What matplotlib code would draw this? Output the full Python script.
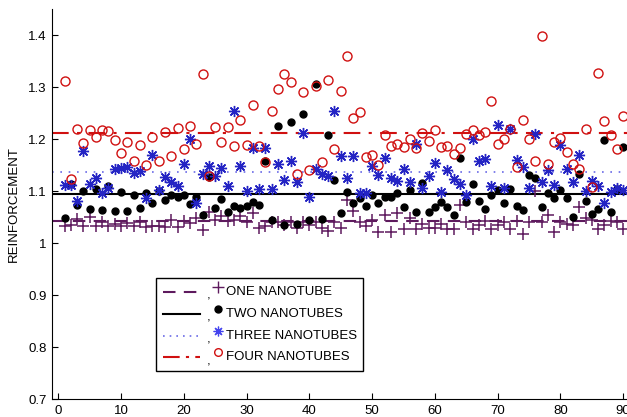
import numpy as np
import matplotlib
matplotlib.use('Agg')
import matplotlib.pyplot as plt
from matplotlib.lines import Line2D
from matplotlib.patches import Rectangle
from matplotlib.ticker import FuncFormatter

plt.rcParams['font.family'] = ['Liberation Sans', 'DejaVu Sans']

# sample index 1..90
sample = np.arange(1, 91)

one_tube = [
    1.032, 1.035, 1.0455, 1.033, 1.050, 1.0325, 1.0395, 1.033, 1.037, 1.033,
    1.0385, 1.033, 1.0395, 1.030, 1.033, 1.033, 1.031, 1.044, 1.030, 1.0425,
    1.0385, 1.048, 1.0245, 1.059, 1.045, 1.051, 1.042, 1.0436, 1.051, 1.041,
    1.058, 1.028, 1.033, 1.041, 1.041, 1.0346, 1.041, 1.028, 1.041, 1.0346,
    1.041, 1.028, 1.0237, 1.041, 1.029, 1.083, 1.062, 1.040, 1.032, 1.044,
    1.022, 1.0545, 1.022, 1.057, 1.027, 1.049, 1.027, 1.0365, 1.029, 1.029,
    1.0365, 1.027, 1.027, 1.073, 1.041, 1.027, 1.035, 1.043, 1.027, 1.035,
    1.041, 1.027, 1.043, 1.017, 1.041, 1.100, 1.041, 1.0545, 1.022, 1.041,
    1.0365, 1.034, 1.070, 1.049, 1.044, 1.027, 1.034, 1.043, 1.041, 1.027]

two_tubes = [
    1.048, 1.1135, 1.074, 1.0995, 1.065, 1.104, 1.063, 1.110, 1.062, 1.099,
    1.062, 1.092, 1.0665, 1.096, 1.076, 1.0995, 1.082, 1.093, 1.089, 1.092,
    1.075, 1.089, 1.053, 1.127, 1.068, 1.084, 1.060, 1.072, 1.068, 1.071,
    1.0795, 1.0735, 1.158, 1.045, 1.2245, 1.035, 1.232, 1.0375, 1.249, 1.0435,
    1.305, 1.0455, 1.207, 1.122, 1.057, 1.098, 1.077, 1.086, 1.071, 1.093,
    1.076, 1.088, 1.089, 1.097, 1.070, 1.1026, 1.0596, 1.115, 1.059, 1.070,
    1.078, 1.070, 1.053, 1.163, 1.078, 1.1135, 1.081, 1.065, 1.0917, 1.102,
    1.0765, 1.103, 1.071, 1.0635, 1.1315, 1.125, 1.070, 1.097, 1.0875, 1.101,
    1.0875, 1.0495, 1.1335, 1.080, 1.055, 1.066, 1.1975, 1.060, 1.103, 1.184]

three_tubes = [
    1.1125, 1.1125, 1.081, 1.1775, 1.1135, 1.1255, 1.097, 1.1055, 1.1425, 1.144,
    1.147, 1.134, 1.138, 1.087, 1.169, 1.1027, 1.127, 1.117, 1.110, 1.152,
    1.2007, 1.0777, 1.1327, 1.1475, 1.129, 1.144, 1.109, 1.253, 1.148, 1.100,
    1.1825, 1.103, 1.1825, 1.103, 1.1516, 1.122, 1.158, 1.1165, 1.211, 1.088,
    1.1417, 1.1335, 1.129, 1.253, 1.1665, 1.1245, 1.1665, 1.097, 1.097, 1.148,
    1.1315, 1.163, 1.1245, 1.1195, 1.142, 1.118, 1.1895, 1.106, 1.129, 1.154,
    1.0987, 1.1397, 1.123, 1.1135, 1.0917, 1.200, 1.157, 1.1615, 1.1096, 1.227,
    1.106, 1.2186, 1.1603, 1.1462, 1.106, 1.209, 1.117, 1.1405, 1.112, 1.188,
    1.143, 1.117, 1.170, 1.100, 1.1186, 1.109, 1.076, 1.098, 1.105, 1.1015]

four_tubes = [
    1.3115, 1.1225, 1.2185, 1.193, 1.217, 1.2035, 1.218, 1.215, 1.1975, 1.1735,
    1.194, 1.1585, 1.1885, 1.150, 1.203, 1.158, 1.214, 1.167, 1.222, 1.181,
    1.225, 1.190, 1.325, 1.128, 1.223, 1.194, 1.2224, 1.186, 1.2365, 1.188,
    1.265, 1.1865, 1.156, 1.254, 1.2955, 1.3256, 1.310, 1.1327, 1.290, 1.141,
    1.301, 1.156, 1.313, 1.181, 1.292, 1.360, 1.2405, 1.2523, 1.1655, 1.170,
    1.1495, 1.208, 1.187, 1.1895, 1.184, 1.1997, 1.1835, 1.2115, 1.197, 1.218,
    1.184, 1.187, 1.1705, 1.183, 1.210, 1.2178, 1.208, 1.214, 1.2737, 1.190,
    1.200, 1.2186, 1.147, 1.2365, 1.200, 1.158, 1.3987, 1.152, 1.195, 1.2015,
    1.1755, 1.152, 1.142, 1.2186, 1.1085, 1.3275, 1.2355, 1.208, 1.180, 1.245]

# average levels (horizontal lines)
mean_levels = [1.0417, 1.0936, 1.137, 1.211]
labels = ['ONE NANOTUBE', 'TWO NANOTUBES', 'THREE NANOTUBES', 'FOUR NANOTUBES']

purple = '#5E1A5E'
blue = '#2424C4'
red = '#D01010'

fig = plt.figure(figsize=(6.27, 4.17), dpi=100)
W, H = 627.0, 417.0
ax = fig.add_axes([52 / W, 1 - 399 / H, (627 - 52) / W, (399 - 9) / H])

# horizontal mean lines
ax.axhline(mean_levels[0], color=purple, lw=1.5, dashes=(6, 4))
ax.axhline(mean_levels[1], color='black', lw=1.5)
ax.axhline(mean_levels[2], color='#6A6AE6', lw=1.2, dashes=(1, 4))
ax.axhline(mean_levels[3], color=red, lw=1.5, dashes=(8, 4, 1.5, 4))

# the scattered points
ax.plot(sample, one_tube, ls='none', marker='+', ms=8, mew=1.1, color=purple)
ax.plot(sample, two_tubes, ls='none', marker='o', ms=5, color='black')
ax.plot(sample, three_tubes, ls='none', marker=(8, 2, 0), ms=8, mew=1.0, color=blue)
ax.plot(sample, four_tubes, ls='none', marker='o', ms=6.5, mfc='none', mew=1.0, color=red)

ax.set_xlim(-1, 90.6)
ax.set_ylim(0.7, 1.45)
ax.set_xticks(np.arange(0, 91, 10))
ax.set_yticks(np.arange(0.7, 1.41, 0.1))
ax.yaxis.set_major_formatter(FuncFormatter(lambda v, p: '%g' % round(v, 2)))
ax.tick_params(direction='in', length=4, width=0.8, labelsize=9.5, pad=4)
ax.spines['top'].set_visible(False)
ax.spines['right'].set_visible(False)
ax.set_ylabel('REINFORCEMENT', fontsize=9.5, labelpad=6)

# hand drawn legend in pixel positions
def fx(px):
    return px / W

def fy(py):
    return 1 - py / H

fig.patches.append(Rectangle((fx(156), fy(371)), fx(363) - fx(156), fy(278) - fy(371),
                             transform=fig.transFigure, fill=False, ec='black', lw=1.0))
row_y = [292, 314, 336, 357]
styles = [dict(color=purple, lw=1.5, dashes=(6, 4)),
          dict(color='black', lw=1.5),
          dict(color='#6A6AE6', lw=1.2, dashes=(1, 3)),
          dict(color=red, lw=1.5, dashes=(8, 3, 1.5, 3))]
marks = [dict(marker='+', ms=9, mew=1.0, color=purple),
         dict(marker='o', ms=5, color='black'),
         dict(marker=(8, 2, 0), ms=7, mew=0.9, color='#4444EE'),
         dict(marker='o', ms=5.5, mfc='none', mew=1.0, color=red)]
for yy, st, mk, lab in zip(row_y, styles, marks, labels):
    fig.lines.append(Line2D([fx(163), fx(200)], [fy(yy), fy(yy)], transform=fig.transFigure, **st))
    fig.text(fx(207), fy(yy + 4), ',', fontsize=9.5, va='center')
    fig.lines.append(Line2D([fx(218)], [fy(yy - 5)], transform=fig.transFigure, ls='none', **mk))
    fig.text(fx(226), fy(yy), lab, fontsize=9.5, va='center')

plt.savefig('out.png', dpi=100)
